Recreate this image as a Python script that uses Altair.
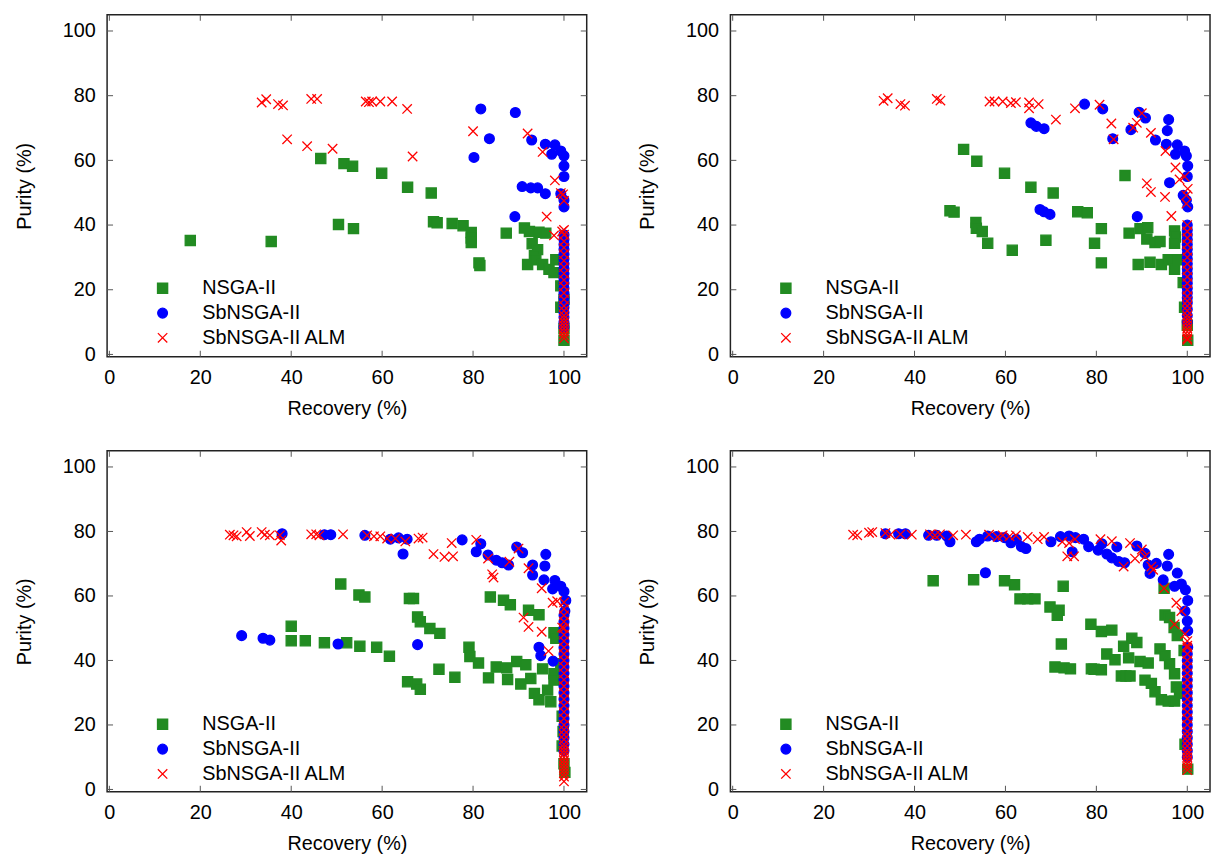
import altair as alt
import pandas as pd

SERIES = ["NSGA-II", "SbNSGA-II", "SbNSGA-II ALM"]
COLORS = ["#228b22", "#0000ff", "#ff0000"]
FILLS = ["#228b22", "#0000ff", "transparent"]
SHAPES = ["square", "circle", "M-1,-1L1,1M-1,1L1,-1"]
SIZES = [105, 90, 135]
TICKS = [0, 20, 40, 60, 80, 100]

# ---------------- Panel A (top left) ----------------
A_NSGA_REC = [17.8, 35.6, 46.5, 51.6, 53.5, 59.9, 65.6, 70.8, 50.4, 53.7, 71.3, 72.1, 75.4, 77.8, 79.6, 79.6, 79.6,
              81.3, 81.5, 87.3, 91.3, 92.4, 94.5, 96.0, 93.0, 94.2, 93.5, 92.0, 93.8, 95.3, 96.7, 97.8, 98.2, 99.3,
              99.3, 100.0, 100.0, 100.0]
A_NSGA_PUR = [35.2, 34.9, 60.6, 59.0, 58.2, 56.0, 51.7, 49.9, 40.2, 38.9, 41.0, 40.7, 40.5, 39.8, 37.7, 36.0, 34.6,
              28.3, 27.5, 37.5, 39.1, 38.0, 37.8, 37.5, 34.2, 32.4, 30.5, 27.8, 29.3, 27.8, 26.3, 25.3, 29.3, 21.2,
              14.6, 4.4, 8.0, 17.0]
A_SB_REC = [81.7, 89.3, 83.6, 80.2, 92.9, 95.9, 98.0, 97.3, 99.3, 100.0, 100.0, 100.0, 90.8, 92.7, 94.2, 95.9, 99.3,
            100.0, 100.0, 89.2]
A_SB_PUR = [75.9, 74.8, 66.7, 60.9, 66.3, 65.0, 64.8, 61.9, 62.9, 61.4, 58.3, 55.0, 51.9, 51.5, 51.5, 49.7, 49.7,
            47.7, 45.6, 42.6]
A_SB_STACK = [37.0, 35.5, 34.0, 32.5, 31.0, 29.5, 28.0, 26.5, 25.0, 23.5, 22.0, 20.5, 19.0, 17.5, 16.0, 14.5, 13.0,
              11.5, 10.0, 8.5]
A_ALM_REC = [33.5, 34.5, 37.1, 38.2, 39.1, 43.5, 44.4, 45.7, 49.1, 56.4, 57.1, 57.8, 59.6, 62.2, 65.5, 66.7, 80.0,
             92.0, 95.3, 98.0, 99.3, 96.2, 97.8, 99.6, 100.0, 99.8]
A_ALM_PUR = [77.9, 78.9, 77.4, 77.0, 66.5, 64.4, 79.0, 79.0, 63.6, 78.2, 78.0, 78.2, 78.2, 78.2, 75.9, 61.2, 69.0,
             68.3, 62.6, 53.8, 49.9, 42.6, 36.8, 38.0, 47.5, 49.5]
A_ALM_STACK = [38.5, 37.0, 35.0, 33.0, 31.0, 29.0, 27.0, 25.0, 23.0, 21.0, 19.0, 17.0, 15.0, 13.5, 12.0, 11.0, 10.0,
               9.0, 8.0, 7.0, 6.0, 5.0]

# ---------------- Panel B (top right) ----------------
B_NSGA_REC = [50.8, 53.7, 59.8, 65.6, 70.5, 47.8, 48.7, 53.5, 53.6, 54.9, 56.1, 61.5, 68.9, 75.9, 78.0, 81.1, 79.6,
              81.1, 86.3, 87.2, 89.6, 91.3, 91.1, 92.9, 94.0, 97.2, 97.4, 97.2, 89.2, 91.8, 94.3, 95.8, 97.2, 98.0,
              99.1, 99.4, 100.1, 100.0]
B_NSGA_PUR = [63.4, 59.7, 56.0, 51.7, 49.9, 44.4, 44.0, 40.8, 39.0, 38.0, 34.4, 32.2, 35.3, 44.1, 43.8, 38.9, 34.4,
              28.3, 55.3, 37.5, 38.9, 39.2, 35.7, 34.6, 34.9, 38.2, 36.3, 34.4, 27.8, 28.5, 27.8, 29.3, 26.3, 29.3,
              22.2, 14.6, 4.4, 9.0]
B_SB_REC = [77.4, 81.4, 65.6, 66.8, 68.5, 83.6, 87.6, 89.4, 90.8, 93.0, 95.9, 95.6, 95.4, 97.8, 97.4, 99.4, 99.8,
            100.1, 100.0, 96.1, 99.1, 99.8, 100.1, 67.6, 68.5, 69.8, 89.0]
B_SB_PUR = [77.4, 75.9, 71.6, 70.5, 69.8, 66.7, 69.5, 74.9, 73.1, 66.3, 72.6, 69.2, 65.0, 64.8, 61.9, 62.9, 61.4,
            58.3, 55.0, 53.1, 49.2, 47.7, 45.6, 44.8, 44.1, 43.3, 42.6]
B_SB_STACK = [40.0, 38.5, 37.0, 35.5, 34.0, 32.5, 31.0, 29.5, 28.0, 26.5, 25.0, 23.5, 22.0, 20.5, 19.0, 17.5, 16.0,
              14.0, 12.0, 10.0]
B_ALM_REC = [33.2, 34.1, 36.9, 37.9, 44.9, 45.7, 56.5, 57.6, 59.4, 61.2, 62.3, 65.2, 65.2, 67.3, 71.1, 75.3, 80.7,
             83.3, 83.8, 88.1, 88.9, 90.0, 92.0, 95.2, 97.4, 98.3, 91.1, 92.0, 95.1, 96.5, 100.1, 99.8, 99.4, 99.8]
B_ALM_PUR = [78.4, 79.2, 77.4, 76.9, 79.0, 78.5, 78.2, 78.2, 78.2, 77.7, 78.0, 77.9, 76.1, 77.4, 72.6, 76.1, 77.2,
             71.4, 66.5, 70.1, 71.6, 74.6, 68.5, 62.9, 57.8, 54.1, 52.9, 50.2, 48.7, 42.8, 51.2, 46.6, 55.0, 49.2]
B_ALM_STACK = [40.0, 38.0, 36.0, 34.0, 32.0, 30.0, 28.0, 26.0, 24.0, 22.0, 20.0, 18.0, 16.5, 15.0, 13.5, 12.0, 11.0,
               10.0, 9.0, 8.0, 7.0, 6.0, 5.0, 4.5]

# ---------------- Panel C (bottom left) ----------------
C_NSGA_REC = [50.9, 54.9, 56.2, 66.0, 66.9, 67.8, 68.4, 70.5, 72.7, 40.0, 40.0, 43.1, 47.3, 52.2, 55.1, 58.8, 61.6,
              65.6, 67.6, 68.4, 72.5, 76.0, 79.1, 79.3, 81.2, 83.4, 83.8, 86.7, 88.2, 92.2, 94.5, 85.1, 87.6, 87.4,
              89.6, 91.6, 90.5, 92.7, 95.3, 93.5, 94.5, 97.1, 96.4, 97.8, 98.2, 97.8, 97.8, 99.3, 99.6, 99.6, 100.2,
              100.0, 99.8]
C_NSGA_PUR = [63.7, 60.3, 59.7, 59.2, 59.2, 53.5, 52.0, 49.9, 48.4, 50.6, 46.1, 46.1, 45.5, 45.5, 44.4, 44.1, 41.3,
              33.4, 32.7, 31.1, 37.3, 34.8, 44.1, 41.2, 39.2, 34.6, 59.7, 58.7, 57.3, 55.6, 54.2, 38.0, 34.1, 37.7,
              39.7, 38.7, 32.7, 34.4, 37.4, 29.8, 27.8, 27.2, 30.8, 48.6, 46.9, 35.9, 33.9, 39.0, 22.7, 13.5, 5.3,
              8.0, 18.0]
C_SB_REC = [29.1, 33.8, 35.3, 38.0, 47.3, 48.7, 50.3, 56.2, 61.8, 63.6, 65.5, 64.6, 67.8, 77.6, 80.7, 81.7, 83.3,
            85.1, 86.4, 87.8, 89.6, 90.9, 93.1, 93.1, 96.0, 95.8, 95.6, 98.0, 97.5, 99.3, 100.0, 100.4, 100.2, 94.5,
            94.9, 97.6]
C_SB_PUR = [47.7, 46.9, 46.3, 79.3, 79.0, 79.0, 45.1, 78.8, 77.6, 78.0, 77.6, 73.0, 44.9, 77.4, 73.7, 76.2, 72.7,
            71.1, 70.3, 69.6, 75.2, 73.4, 69.6, 66.5, 72.9, 69.3, 65.0, 64.8, 62.2, 63.0, 61.4, 58.6, 55.3, 44.1,
            41.5, 39.8]
C_SB_STACK = [54.0, 52.0, 50.0, 48.0, 46.0, 44.0, 42.0, 40.0, 38.0, 36.0, 34.0, 32.0, 30.0, 28.0, 26.0, 24.0, 22.0,
              20.0, 18.0, 16.0, 14.0, 12.0]
C_ALM_REC = [26.5, 27.3, 28.0, 30.2, 30.9, 33.5, 34.2, 35.3, 37.5, 37.8, 44.4, 45.5, 46.2, 51.4, 56.7, 58.2, 59.6,
             61.1, 62.9, 65.1, 68.0, 68.9, 71.3, 73.7, 75.6, 75.3, 80.7, 83.3, 84.2, 84.5, 88.0, 90.0, 92.2, 95.1,
             97.5, 98.5, 91.1, 92.2, 95.1, 96.6, 99.6]
C_ALM_PUR = [79.0, 78.8, 78.5, 79.8, 78.6, 79.8, 79.0, 78.8, 78.8, 77.2, 79.1, 79.1, 78.8, 79.1, 78.8, 78.5, 78.5,
             77.8, 77.8, 76.9, 77.8, 78.1, 73.0, 72.1, 72.3, 76.4, 77.4, 71.6, 66.7, 65.7, 70.6, 74.7, 68.6, 62.4,
             57.9, 58.4, 53.3, 50.4, 48.9, 42.9, 50.2]
C_ALM_STACK = [58.0, 56.0, 54.0, 52.0, 50.0, 48.0, 46.0, 44.0, 42.0, 40.0, 38.0, 36.0, 34.0, 32.0, 30.0, 28.0, 26.0,
               24.0, 22.0, 20.0, 18.5, 17.0, 15.5, 14.0, 13.0, 12.0, 11.0, 10.0, 9.0, 8.0, 7.0, 6.0, 5.0, 4.0, 2.5]

# ---------------- Panel D (bottom right) ----------------
D_NSGA_REC = [44.1, 53.0, 59.8, 62.0, 63.2, 64.9, 66.5, 69.8, 71.8, 71.4, 72.7, 72.3, 70.9, 72.9, 74.3, 78.9, 79.5,
              81.1, 78.8, 81.1, 83.4, 82.3, 84.1, 86.0, 87.8, 88.9, 87.1, 89.6, 91.4, 85.5, 86.5, 87.4, 90.7, 92.1,
              92.9, 94.3, 95.8, 97.2, 94.9, 95.1, 96.1, 97.1, 97.8, 94.0, 95.1, 96.1, 97.2, 97.6, 98.3, 99.3, 99.5,
              100.1]
D_NSGA_PUR = [64.7, 65.0, 64.7, 63.5, 59.1, 59.1, 59.1, 56.6, 55.6, 54.0, 63.0, 45.1, 38.0, 37.7, 37.4, 37.4, 37.3,
              37.1, 51.2, 49.0, 49.4, 42.0, 40.2, 44.4, 46.9, 45.6, 40.8, 39.7, 39.2, 35.2, 35.2, 35.2, 33.9, 32.9,
              30.3, 27.8, 27.4, 27.4, 62.4, 54.1, 53.3, 50.2, 47.7, 43.6, 41.5, 39.0, 35.9, 31.8, 29.8, 43.1, 14.0,
              6.3]
D_SB_REC = [33.6, 36.5, 38.0, 43.1, 44.9, 47.1, 47.8, 53.6, 54.3, 56.1, 55.6, 58.0, 59.8, 61.2, 62.4, 63.5, 64.5,
            70.0, 72.1, 74.0, 75.4, 74.7, 77.2, 78.3, 80.4, 81.2, 82.3, 83.4, 84.5, 84.9, 86.2, 88.9, 90.7, 91.4,
            93.2, 91.8, 95.9, 95.6, 94.7, 97.8, 97.2, 98.7, 99.6, 100.1, 99.5, 100.0, 100.1, 100.1]
D_SB_PUR = [79.3, 79.3, 79.3, 78.8, 78.8, 78.6, 76.8, 76.8, 77.6, 78.6, 67.2, 78.4, 78.1, 76.5, 77.6, 75.3, 74.7,
            76.8, 78.4, 78.6, 78.1, 73.7, 77.6, 75.3, 74.2, 76.2, 73.0, 71.8, 75.2, 70.7, 70.3, 75.5, 73.2, 69.6,
            70.1, 67.0, 72.9, 69.3, 65.0, 67.1, 63.0, 63.7, 61.9, 58.6, 55.3, 52.2, 49.2, 44.1]
D_SB_STACK = [42.0, 40.0, 38.0, 36.0, 34.0, 32.0, 30.0, 28.0, 26.0, 24.0, 22.0, 20.0, 18.0, 16.0, 14.0, 12.0, 10.0]
D_ALM_REC = [26.5, 27.4, 30.0, 30.7, 33.6, 34.7, 36.9, 39.4, 43.4, 44.5, 45.6, 48.5, 51.3, 56.4, 58.3, 59.4, 60.9,
             62.3, 64.9, 67.1, 68.5, 72.5, 74.0, 75.3, 73.6, 75.1, 80.9, 83.4, 86.0, 87.4, 88.5, 90.0, 90.7, 92.1,
             92.5, 94.9, 97.6, 97.2, 98.7, 99.5, 100.0]
D_ALM_PUR = [79.0, 78.8, 79.6, 79.8, 79.5, 79.0, 79.1, 79.0, 79.1, 78.8, 79.1, 78.8, 79.0, 79.0, 78.3, 78.8, 78.5,
             78.8, 78.3, 77.6, 78.3, 76.8, 76.4, 77.6, 72.3, 72.3, 77.6, 77.0, 69.1, 76.4, 71.6, 74.4, 72.2, 69.1,
             68.1, 62.4, 57.9, 51.2, 55.3, 48.2, 44.6]
D_ALM_STACK = [46.0, 44.0, 42.0, 40.0, 38.0, 36.0, 34.0, 32.0, 30.0, 28.0, 26.0, 24.0, 22.0, 20.0, 18.0, 16.5, 15.0,
               13.5, 12.0, 11.0, 10.0, 9.0, 8.0, 7.0, 6.0]

STACK_REC = 100.0  # recovery value of the vertical stacks

FONT = "Liberation Sans"


def build_df(nsga_rec, nsga_pur, sb_rec, sb_pur, sb_stack, alm_rec, alm_pur, alm_stack):
    rows = []
    for r, p in zip(nsga_rec, nsga_pur):
        rows.append({"series": SERIES[0], "rec": r, "pur": p})
    for r, p in zip(sb_rec, sb_pur):
        rows.append({"series": SERIES[1], "rec": r, "pur": p})
    for p in sb_stack:
        rows.append({"series": SERIES[1], "rec": STACK_REC, "pur": p})
    for r, p in zip(alm_rec, alm_pur):
        rows.append({"series": SERIES[2], "rec": r, "pur": p})
    for p in alm_stack:
        rows.append({"series": SERIES[2], "rec": STACK_REC, "pur": p})
    return pd.DataFrame(rows)


def panel(df, W, H):
    xs = alt.Scale(domain=[-0.5, 105], nice=False, zero=False)
    ys = alt.Scale(domain=[-0.7, 105], nice=False, zero=False)
    xax = alt.Axis(title="Recovery (%)", values=TICKS, labelFlush=False)
    yax = alt.Axis(title="Purity (%)", values=TICKS)
    leg = alt.Legend(orient="none", legendX=46, legendY=266, title=None, labelFont=FONT, labelFontSize=20,
                     labelColor="black", labelOffset=30, rowPadding=5, padding=0, symbolStrokeWidth=1.3)
    pts = alt.Chart(df).mark_point(opacity=1, strokeWidth=1.3).encode(
        x=alt.X("rec:Q", scale=xs, axis=xax),
        y=alt.Y("pur:Q", scale=ys, axis=yax),
        color=alt.Color("series:N", scale=alt.Scale(domain=SERIES, range=COLORS), legend=leg),
        fill=alt.Fill("series:N", scale=alt.Scale(domain=SERIES, range=FILLS), legend=leg),
        shape=alt.Shape("series:N", scale=alt.Scale(domain=SERIES, range=SHAPES), legend=leg),
        size=alt.Size("series:N", scale=alt.Scale(domain=SERIES, range=SIZES), legend=leg),
    )
    tdf = pd.DataFrame({"t": TICKS})
    tick_style = dict(color="#555555", strokeWidth=1)
    xb = alt.Chart(tdf).mark_rule(**tick_style).encode(
        x=alt.X("t:Q", scale=xs, axis=xax), y=alt.value(H), y2=alt.value(H - 6))
    xt = alt.Chart(tdf).mark_rule(**tick_style).encode(
        x=alt.X("t:Q", scale=xs, axis=xax), y=alt.value(0), y2=alt.value(6))
    yl = alt.Chart(tdf).mark_rule(**tick_style).encode(
        y=alt.Y("t:Q", scale=ys, axis=yax), x=alt.value(0), x2=alt.value(6))
    yr = alt.Chart(tdf).mark_rule(**tick_style).encode(
        y=alt.Y("t:Q", scale=ys, axis=yax), x=alt.value(W), x2=alt.value(W - 6))
    return alt.layer(pts, xb, xt, yl, yr).properties(width=W, height=H)


dfA = build_df(A_NSGA_REC, A_NSGA_PUR, A_SB_REC, A_SB_PUR, A_SB_STACK, A_ALM_REC, A_ALM_PUR, A_ALM_STACK)
dfB = build_df(B_NSGA_REC, B_NSGA_PUR, B_SB_REC, B_SB_PUR, B_SB_STACK, B_ALM_REC, B_ALM_PUR, B_ALM_STACK)
dfC = build_df(C_NSGA_REC, C_NSGA_PUR, C_SB_REC, C_SB_PUR, C_SB_STACK, C_ALM_REC, C_ALM_PUR, C_ALM_STACK)
dfD = build_df(D_NSGA_REC, D_NSGA_PUR, D_SB_REC, D_SB_PUR, D_SB_STACK, D_ALM_REC, D_ALM_PUR, D_ALM_STACK)

indep = dict(color="independent", fill="independent", shape="independent", size="independent")

row1 = alt.hconcat(panel(dfA, 484, 345), panel(dfB, 484, 345), spacing=48).resolve_scale(**indep)
row2 = alt.hconcat(panel(dfC, 484, 344), panel(dfD, 484, 344), spacing=48).resolve_scale(**indep)

chart = alt.vconcat(row1, row2, spacing=30).resolve_scale(**indep).properties(
    padding={"left": 5, "top": 1, "right": 0, "bottom": 0}
).configure_view(
    stroke="#222222", strokeWidth=1.5
).configure_axis(
    domain=False, grid=False, ticks=False, tickSize=0,
    labelFont=FONT, labelFontSize=20, labelColor="black",
    titleFont=FONT, titleFontSize=20, titleFontWeight="normal", titleColor="black",
).configure_axisX(
    labelPadding=11, titlePadding=11
).configure_axisY(
    labelPadding=12, titlePadding=28
)

chart.save("out.html", embed_options={"renderer": "svg", "actions": False})
